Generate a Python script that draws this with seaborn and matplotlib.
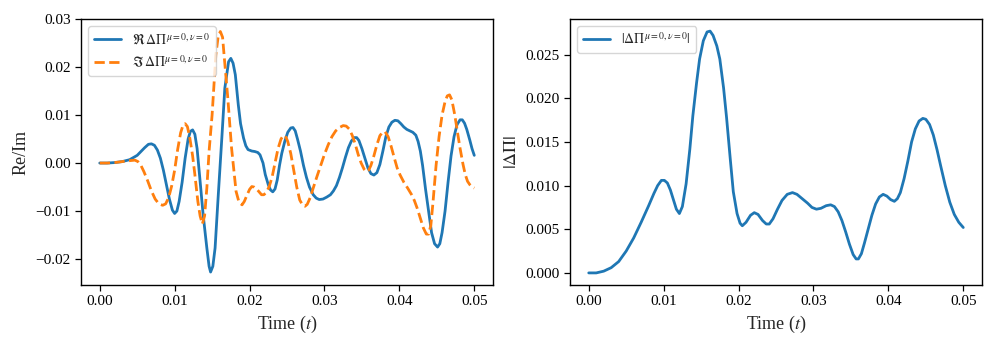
import numpy as np
import pandas as pd
import matplotlib
matplotlib.use('Agg')
import matplotlib.pyplot as plt
import seaborn as sns

# Re / Im of Delta Pi
t_re = [0.0, 0.001, 0.002, 0.003, 0.004, 0.005, 0.0055, 0.006, 0.0065, 0.0069,
        0.0073, 0.0077, 0.0081, 0.0085, 0.0089, 0.0093, 0.0097, 0.0100, 0.0103, 0.0106,
        0.0110, 0.0114, 0.0118, 0.0121, 0.0124, 0.0127, 0.0130, 0.0132, 0.0135, 0.0138,
        0.0143, 0.0146, 0.0148, 0.0151, 0.0154, 0.0158, 0.0163, 0.0167, 0.0172, 0.0175,
        0.0178, 0.0181, 0.0185, 0.0188, 0.0192, 0.0195, 0.0198, 0.0203, 0.0207, 0.0211,
        0.0214, 0.0218, 0.0221, 0.0225, 0.0228, 0.0231, 0.0234, 0.0237, 0.0240, 0.0243,
        0.0247, 0.0251, 0.0255, 0.0258, 0.0261, 0.0264, 0.0268, 0.0272, 0.0276, 0.0280,
        0.0285, 0.0289, 0.0293, 0.0298, 0.0303, 0.0308, 0.0312, 0.0316, 0.0320, 0.0324,
        0.0328, 0.0332, 0.0336, 0.0340, 0.0343, 0.0346, 0.0350, 0.0354, 0.0358, 0.0362,
        0.0366, 0.0370, 0.0374, 0.0378, 0.0382, 0.0386, 0.0390, 0.0394, 0.0398, 0.0402,
        0.0406, 0.0410, 0.0414, 0.0418, 0.0422, 0.0425, 0.0428, 0.0431, 0.0435, 0.0439,
        0.0443, 0.0447, 0.0451, 0.0454, 0.0457, 0.0461, 0.0465, 0.0469, 0.0473, 0.0477,
        0.0481, 0.0484, 0.0487, 0.0490, 0.0494, 0.0497, 0.0500]
re_val = [0.0, 0.0, 0.0001, 0.0003, 0.0007, 0.0016, 0.0024, 0.0032, 0.0039, 0.0040,
          0.0037, 0.0027, 0.0010, -0.0015, -0.0045, -0.0075, -0.0098, -0.0105, -0.0100, -0.0080,
          -0.0040, 0.0010, 0.0050, 0.0066, 0.0069, 0.0060, 0.0030, -0.0004, -0.0055, -0.0107,
          -0.0177, -0.0215, -0.0227, -0.0215, -0.0177, -0.0073, 0.0052, 0.0156, 0.0211, 0.0218,
          0.0208, 0.0184, 0.0121, 0.0082, 0.0052, 0.0036, 0.0028, 0.0025, 0.0024, 0.0022,
          0.0017, 0.0000, -0.0024, -0.0045, -0.0056, -0.0060, -0.0054, -0.0035, -0.0005, 0.0020,
          0.0045, 0.0064, 0.0073, 0.0074, 0.0067, 0.0050, 0.0025, -0.0005, -0.0030, -0.0050,
          -0.0066, -0.0073, -0.0076, -0.0075, -0.0071, -0.0066, -0.0058, -0.0047, -0.0030, -0.0010,
          0.0012, 0.0032, 0.0046, 0.0053, 0.0053, 0.0047, 0.0030, 0.0010, -0.0010, -0.0022,
          -0.0025, -0.0020, -0.0003, 0.0025, 0.0055, 0.0075, 0.0085, 0.0089, 0.0088, 0.0082,
          0.0075, 0.0070, 0.0067, 0.0064, 0.0058, 0.0045, 0.0025, -0.0005, -0.0055, -0.0100,
          -0.0145, -0.0168, -0.0175, -0.0168, -0.0145, -0.0100, -0.0040, 0.0015, 0.0055, 0.0080,
          0.0090, 0.0090, 0.0083, 0.0070, 0.0048, 0.0030, 0.0016]

t_im = [0.0, 0.001, 0.002, 0.003, 0.004, 0.0047, 0.0051, 0.0055, 0.0059, 0.0064,
        0.0069, 0.0074, 0.0079, 0.0084, 0.0088, 0.0092, 0.0096, 0.0100, 0.0104, 0.0108,
        0.0111, 0.0114, 0.0117, 0.0120, 0.0124, 0.0127, 0.0131, 0.0134, 0.0137, 0.0140,
        0.0143, 0.0146, 0.0150, 0.0155, 0.0158, 0.0161, 0.0164, 0.0166, 0.0171, 0.0176,
        0.0182, 0.0186, 0.0190, 0.0193, 0.0196, 0.0200, 0.0203, 0.0206, 0.0210, 0.0216,
        0.0219, 0.0222, 0.0226, 0.0230, 0.0234, 0.0238, 0.0242, 0.0245, 0.0248, 0.0251,
        0.0255, 0.0259, 0.0263, 0.0267, 0.0271, 0.0274, 0.0277, 0.0281, 0.0285, 0.0290,
        0.0295, 0.0300, 0.0305, 0.0310, 0.0315, 0.0320, 0.0325, 0.0329, 0.0333, 0.0337,
        0.0341, 0.0345, 0.0349, 0.0353, 0.0356, 0.0359, 0.0362, 0.0366, 0.0370, 0.0374,
        0.0378, 0.0381, 0.0385, 0.0389, 0.0393, 0.0397, 0.0401, 0.0406, 0.0411, 0.0416,
        0.0420, 0.0424, 0.0428, 0.0432, 0.0436, 0.0439, 0.0442, 0.0445, 0.0449, 0.0453,
        0.0457, 0.0461, 0.0464, 0.0467, 0.0470, 0.0474, 0.0478, 0.0481, 0.0485, 0.0488,
        0.0491, 0.0494, 0.0497, 0.0500]
im_val = [0.0, 0.0, 0.0001, 0.0003, 0.0005, 0.0006, 0.0003, -0.0005, -0.0018, -0.0037,
          -0.0058, -0.0075, -0.0085, -0.0088, -0.0085, -0.0072, -0.0048, -0.0015, 0.0028, 0.0063,
          0.0078, 0.0082, 0.0076, 0.0055, 0.0015, -0.0024, -0.0080, -0.0110, -0.0127, -0.0110,
          -0.0052, 0.0025, 0.0100, 0.0225, 0.0262, 0.0274, 0.0262, 0.0225, 0.0135, 0.0031,
          -0.0059, -0.0082, -0.0087, -0.0080, -0.0069, -0.0055, -0.0049, -0.0050, -0.0055, -0.0066,
          -0.0066, -0.0062, -0.0050, -0.0030, 0.0000, 0.0030, 0.0050, 0.0057, 0.0056, 0.0045,
          0.0020, -0.0015, -0.0050, -0.0077, -0.0088, -0.0090, -0.0086, -0.0072, -0.0052, -0.0028,
          -0.0005, 0.0018, 0.0038, 0.0055, 0.0067, 0.0074, 0.0078, 0.0077, 0.0071, 0.0058,
          0.0040, 0.0018, 0.0000, -0.0013, -0.0018, -0.0015, -0.0005, 0.0015, 0.0038, 0.0057,
          0.0065, 0.0065, 0.0055, 0.0035, 0.0012, -0.0010, -0.0025, -0.0040, -0.0052, -0.0065,
          -0.0078, -0.0095, -0.0115, -0.0135, -0.0148, -0.0148, -0.0130, -0.0080, -0.0005, 0.0055,
          0.0100, 0.0128, 0.0140, 0.0142, 0.0132, 0.0100, 0.0060, 0.0031, -0.0003, -0.0024,
          -0.0038, -0.0045, -0.0050, -0.0052]

# |Delta Pi| (right panel)
t_abs = [0.0, 0.001, 0.002, 0.003, 0.004, 0.005, 0.006, 0.007, 0.008, 0.0087,
         0.0092, 0.0097, 0.0101, 0.0105, 0.0109, 0.0113, 0.0117, 0.0121, 0.0125, 0.0130,
         0.0135, 0.0139, 0.0144, 0.0148, 0.0153, 0.0158, 0.0162, 0.0166, 0.0171, 0.0175,
         0.0180, 0.0184, 0.0189, 0.0193, 0.0198, 0.0202, 0.0205, 0.0210, 0.0216, 0.0221,
         0.0226, 0.0232, 0.0237, 0.0241, 0.0246, 0.0252, 0.0258, 0.0265, 0.0272, 0.0278,
         0.0285, 0.0292, 0.0298, 0.0304, 0.0310, 0.0317, 0.0323, 0.0328, 0.0333, 0.0338,
         0.0343, 0.0348, 0.0353, 0.0357, 0.0360, 0.0364, 0.0368, 0.0373, 0.0378, 0.0383,
         0.0388, 0.0393, 0.0398, 0.0403, 0.0408, 0.0412, 0.0416, 0.0421, 0.0426, 0.0431,
         0.0436, 0.0441, 0.0446, 0.0450, 0.0455, 0.0460, 0.0465, 0.0470, 0.0476, 0.0482,
         0.0488, 0.0494, 0.0500]
abs_val = [0.0, 0.0, 0.0002, 0.0006, 0.0013, 0.0025, 0.0040, 0.0058, 0.0077, 0.0091,
           0.0100, 0.0106, 0.0106, 0.0103, 0.0095, 0.0084, 0.0073, 0.0068, 0.0076, 0.0102,
           0.0142, 0.0180, 0.0218, 0.0245, 0.0266, 0.0276, 0.0277, 0.0272, 0.0260, 0.0245,
           0.0212, 0.0178, 0.0130, 0.0093, 0.0068, 0.0057, 0.0054, 0.0058, 0.0066, 0.0069,
           0.0067, 0.0060, 0.0056, 0.0056, 0.0062, 0.0073, 0.0083, 0.0090, 0.0092, 0.0090,
           0.0085, 0.0080, 0.0075, 0.0073, 0.0074, 0.0077, 0.0078, 0.0076, 0.0070, 0.0060,
           0.0047, 0.0033, 0.0021, 0.0016, 0.0016, 0.0022, 0.0034, 0.0050, 0.0066, 0.0079,
           0.0087, 0.0090, 0.0088, 0.0084, 0.0082, 0.0085, 0.0092, 0.0108, 0.0128, 0.0150,
           0.0165, 0.0174, 0.0177, 0.0176, 0.0170, 0.0158, 0.0141, 0.0122, 0.0100, 0.0081,
           0.0067, 0.0058, 0.0052]

sns.set_style("ticks")
plt.rcParams['font.family'] = ['Liberation Serif', 'DejaVu Serif']
plt.rcParams['mathtext.fontset'] = 'stix'
plt.rcParams['axes.edgecolor'] = 'black'
plt.rcParams['xtick.color'] = 'black'
plt.rcParams['ytick.color'] = 'black'
plt.rcParams['axes.linewidth'] = 1.0

blue = '#1f77b4'
orange = '#ff7f0e'

fig = plt.figure(figsize=(9.97, 3.44), dpi=100)
ax1 = fig.add_axes([81 / 997, 1 - 285 / 344, 412 / 997, 266 / 344])
ax2 = fig.add_axes([570 / 997, 1 - 285 / 344, 412 / 997, 266 / 344])

df_re = pd.DataFrame({'t': t_re, 'v': re_val})
df_im = pd.DataFrame({'t': t_im, 'v': im_val})
df_abs = pd.DataFrame({'t': t_abs, 'v': abs_val})

sns.lineplot(data=df_re, x='t', y='v', ax=ax1, color=blue, linewidth=2,
             label=r'$\Re\,\Delta\Pi^{\mu=0,\nu=0}$')
sns.lineplot(data=df_im, x='t', y='v', ax=ax1, color=orange, linewidth=2,
             linestyle='--', label=r'$\Im\,\Delta\Pi^{\mu=0,\nu=0}$')
ax1.set_xlabel(r'Time ($t$)', fontsize=13)
ax1.set_ylabel('Re/Im', fontsize=13)
ax1.set_xticks([0.0, 0.01, 0.02, 0.03, 0.04, 0.05])
ax1.set_xticklabels(['0.00', '0.01', '0.02', '0.03', '0.04', '0.05'])
ax1.set_yticks([-0.02, -0.01, 0.0, 0.01, 0.02, 0.03])
ax1.set_yticklabels(['\u22120.02', '\u22120.01', '0.00', '0.01', '0.02', '0.03'])
ax1.set_ylim(-0.0254, 0.0300)
ax1.legend(loc='upper left', fontsize=10)

sns.lineplot(data=df_abs, x='t', y='v', ax=ax2, color=blue, linewidth=2,
             label=r'$|\Delta\Pi^{\mu=0,\nu=0}|$')
ax2.set_xlabel(r'Time ($t$)', fontsize=13)
ax2.set_ylabel(r'$|\Delta\Pi|$', fontsize=13)
ax2.set_xticks([0.0, 0.01, 0.02, 0.03, 0.04, 0.05])
ax2.set_xticklabels(['0.00', '0.01', '0.02', '0.03', '0.04', '0.05'])
ax2.set_yticks([0.0, 0.005, 0.01, 0.015, 0.02, 0.025])
ax2.set_yticklabels(['0.000', '0.005', '0.010', '0.015', '0.020', '0.025'])
ax2.legend(loc='upper left', fontsize=10)

for ax in (ax1, ax2):
    ax.tick_params(labelsize=11, direction='out', length=4, width=0.9)
    for s in ax.spines.values():
        s.set_visible(True)

fig.savefig('out.png', dpi=100)
